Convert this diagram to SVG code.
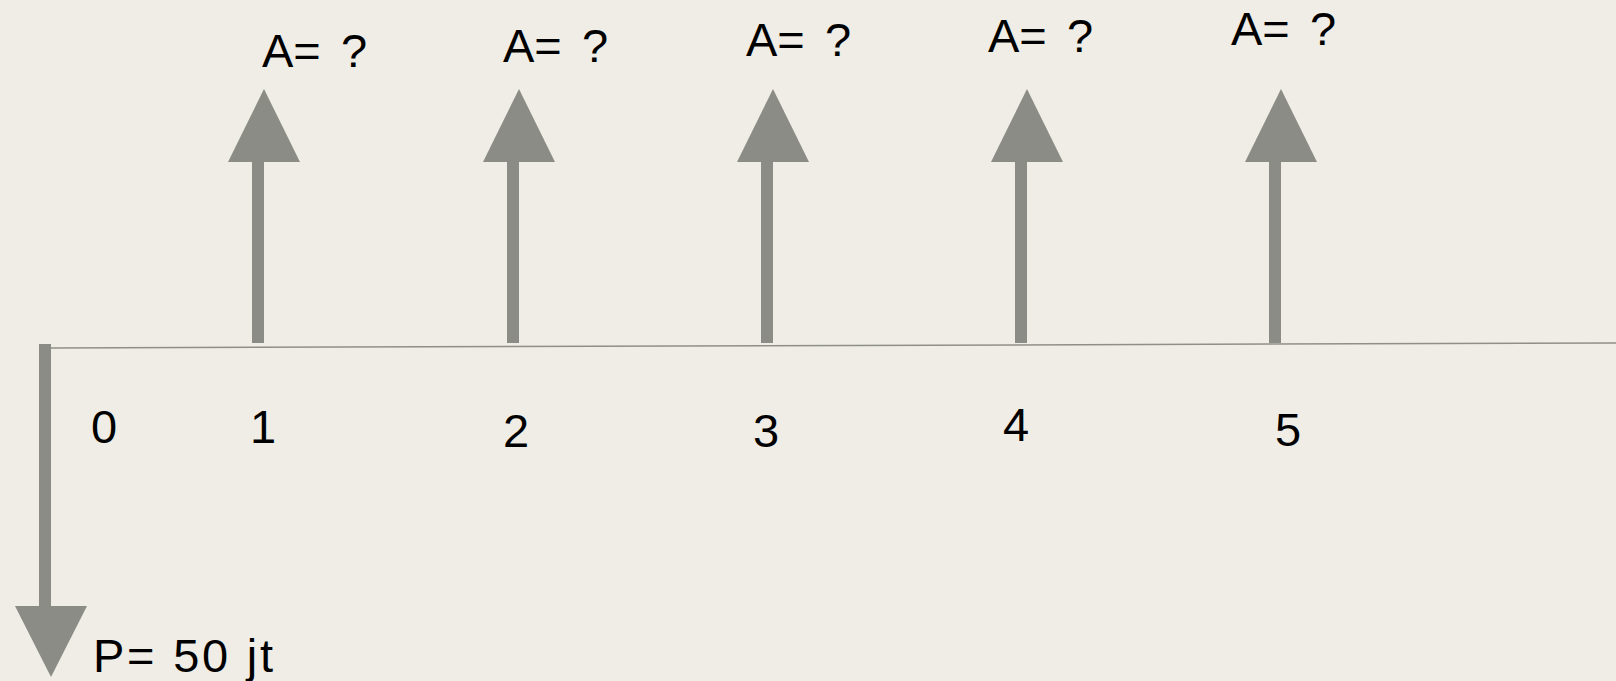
<svg xmlns="http://www.w3.org/2000/svg" width="1616" height="681" viewBox="0 0 1616 681">
<style>
.arrow{fill:#8b8c85}
.lbl{font-family:"Liberation Sans","Open Sans",sans-serif;font-size:47px;fill:#000}
.axis{stroke:#8f8f88;stroke-width:1.5;fill:none}
</style>
<rect width="1616" height="681" fill="#efede5"/>
<g id="connectors">
<line class="axis" x1="51" y1="348" x2="1616" y2="343"/>
</g>
<g id="p-arrow">
<rect class="arrow" x="39" y="344" width="12" height="263"/>
<polygon class="arrow" points="15,606 87,606 51,677"/>
<text class="lbl" x="93" y="672" font-size="48" textLength="180" lengthAdjust="spacing">P= 50 jt</text>
</g>
<g id="a1">
<rect class="arrow" x="252" y="161" width="12" height="182"/>
<polygon class="arrow" points="228,162 300,162 264,89"/>
<text class="lbl" y="67"><tspan x="262">A=</tspan><tspan x="341">?</tspan></text>
</g>
<g id="a2">
<rect class="arrow" x="507" y="161" width="12" height="182"/>
<polygon class="arrow" points="483,162 555,162 519,89"/>
<text class="lbl" y="62"><tspan x="503">A=</tspan><tspan x="582">?</tspan></text>
</g>
<g id="a3">
<rect class="arrow" x="761" y="161" width="12" height="182"/>
<polygon class="arrow" points="737,162 809,162 773,89"/>
<text class="lbl" y="56"><tspan x="746">A=</tspan><tspan x="825">?</tspan></text>
</g>
<g id="a4">
<rect class="arrow" x="1015" y="161" width="12" height="182"/>
<polygon class="arrow" points="991,162 1063,162 1027,89"/>
<text class="lbl" y="52"><tspan x="988">A=</tspan><tspan x="1067">?</tspan></text>
</g>
<g id="a5">
<rect class="arrow" x="1269" y="161" width="12" height="182"/>
<polygon class="arrow" points="1245,162 1317,162 1281,89"/>
<text class="lbl" y="45"><tspan x="1231">A=</tspan><tspan x="1310">?</tspan></text>
</g>
<g id="ticks">
<text class="lbl" x="91" y="443">0</text>
<text class="lbl" x="250" y="443">1</text>
<text class="lbl" x="503" y="447">2</text>
<text class="lbl" x="753" y="447">3</text>
<text class="lbl" x="1003" y="441">4</text>
<text class="lbl" x="1275" y="446">5</text>
</g>
</svg>
